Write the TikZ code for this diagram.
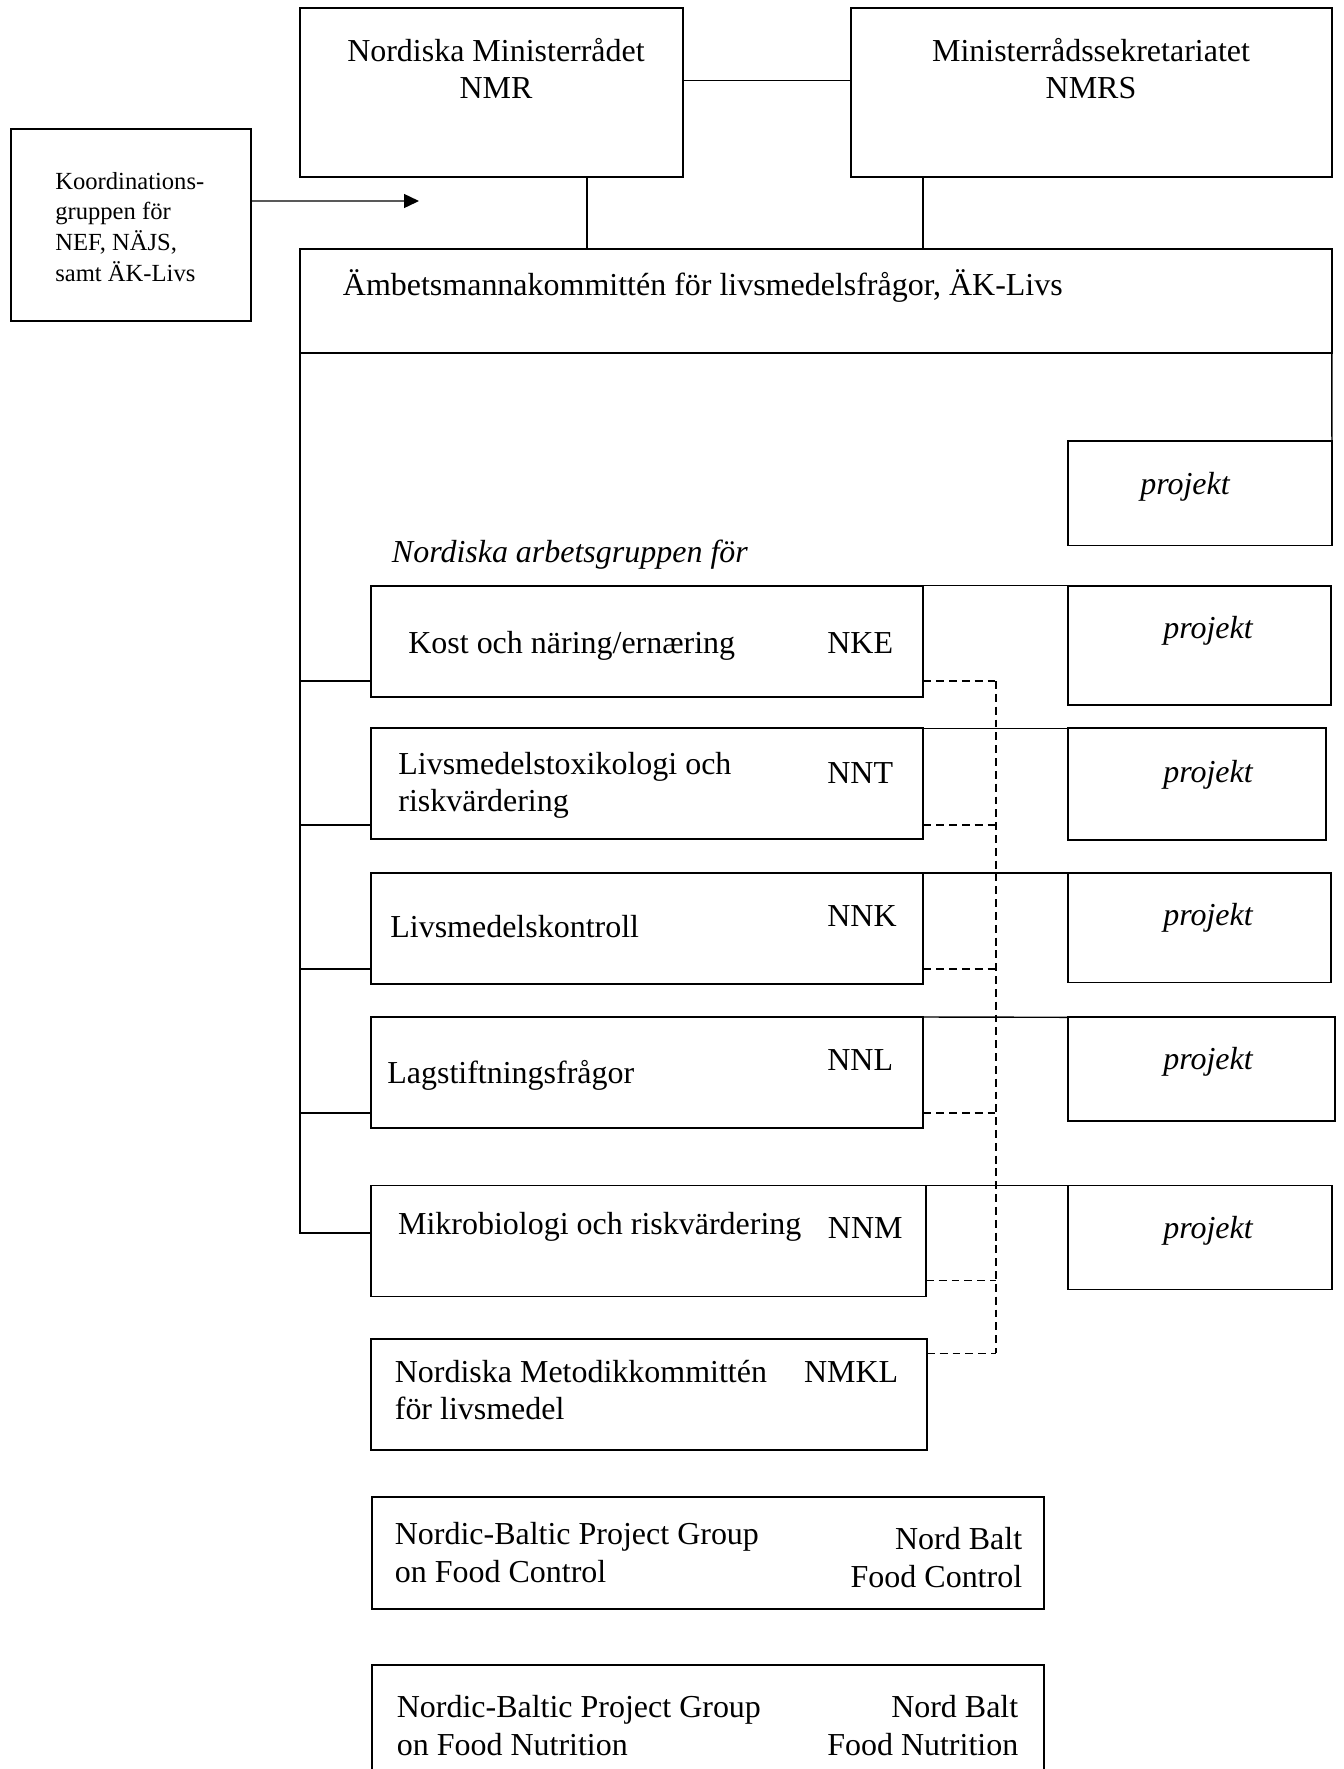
\documentclass[tikz,border=0pt]{standalone}
\usepackage{fontspec}
\setmainfont{Liberation Serif}
\usetikzlibrary{arrows.meta}
\tikzset{orgbox/.style = {draw, line width=1.1pt, inner sep=0pt, outer sep=0pt,
                          anchor=north west}}
\tikzset{link/.style = {line width=0.8pt}}
\tikzset{dashlink/.style = {line width=0.8pt, dash pattern=on 4.5pt off 2.8pt}}
\tikzset{txt/.style = {inner sep=0pt, font=\fontsize{18.2pt}{21.3pt}\selectfont}}
\tikzset{smalltxt/.style = {inner sep=0pt, font=\fontsize{14pt}{17.4pt}\selectfont}}
\tikzset{projtxt/.style = {inner sep=0pt, anchor=base,
                           font=\fontsize{18.2pt}{21.3pt}\selectfont\itshape}}

\begin{document}
\begin{tikzpicture}[x=0.02cm, y=-0.02cm]
      \clip (0, 0) rectangle (1343, 1769);

      % top level
      \node [orgbox, minimum width=7.67cm, minimum height=3.37cm] (nmr) at (300, 8.4) {};
      \node [orgbox, minimum width=9.62cm, minimum height=3.37cm] (nmrs) at (851, 8.4) {};
      \node [orgbox, minimum width=4.80cm, minimum height=3.84cm] (koord) at (11, 129) {};
      \node [orgbox, minimum width=20.64cm, minimum height=2.08cm] (aek) at (300, 249) {};
      \node [orgbox, minimum width=5.28cm, minimum height=2.09cm] (proj0) at (1068, 441) {};

      % multi-line texts sit on the baseline of their last line
      \node [txt, align=center, anchor=base] (nmrtext) at (496, 98.7) {Nordiska Ministerrådet\\NMR};
      \node [txt, align=center, anchor=base] (nmrstext) at (1091, 98.7) {Ministerrådssekretariatet\\NMRS};
      \node [smalltxt, align=left, anchor=base west] (koordtext) at (55, 281)
            {Koordinations-\\gruppen för\\NEF, NÄJS,\\samt ÄK-Livs};
      \node [txt, anchor=base west] (aektext) at (342.6, 295.4)
            {Ämbetsmannakommittén för livsmedelsfrågor, ÄK-Livs};
      \node [projtxt] (proj0text) at (1185, 494.5) {projekt};
      \node [txt, anchor=base west, font=\fontsize{18.2pt}{21.3pt}\selectfont\itshape] (heading)
            at (391.6, 562.6) {Nordiska arbetsgruppen för};

      % working groups and their projects
      \foreach \g/\y/\w in {nke/585.6/11.05, nnt/728.4/11.05, nnk/873/11.05,
                            nnl/1017/11.05, nnm/1185.5/11.10, nmkl/1338.7/11.12}
        \node [orgbox, minimum width=\w cm, minimum height=2.22cm] (\g) at (371, \y) {};
      \foreach \p/\y/\w/\h in {proj1/585.6/5.26/2.38, proj2/728.4/5.16/2.23,
                               proj3/873/5.26/2.19, proj4/1017.3/5.34/2.07,
                               proj5/1185.5/5.28/2.08}
        \node [orgbox, minimum width=\w cm, minimum height=\h cm] (\p) at (1068, \y) {};
      \node [orgbox, minimum width=13.44cm, minimum height=2.23cm] (nbfc) at (372, 1497.4) {};
      \node [orgbox, minimum width=13.44cm, minimum height=2.4cm] (nbfn) at (372, 1665.2) {};

      \node [txt, anchor=base west] (nketext) at (408, 653.5) {Kost och näring/ernæring};
      \node [txt, anchor=base west] (nkeabbr) at (827, 653.5) {NKE};
      \node [txt, anchor=base west, align=left] (nnttext) at (398, 811.6)
            {Livsmedelstoxikologi och\\riskvärdering};
      \node [txt, anchor=base west] (nntabbr) at (827, 783.6) {NNT};
      \node [txt, anchor=base west] (nnktext) at (390, 937) {Livsmedelskontroll};
      \node [txt, anchor=base west] (nnkabbr) at (827, 926.4) {NNK};
      \node [txt, anchor=base west] (nnltext) at (387, 1083.6) {Lagstiftningsfrågor};
      \node [txt, anchor=base west] (nnlabbr) at (827, 1070.8) {NNL};
      \node [txt, anchor=base west] (nnmtext) at (397.8, 1234) {Mikrobiologi och riskvärdering};
      \node [txt, anchor=base west] (nnmabbr) at (827.6, 1238.8) {NNM};
      \node [txt, anchor=base west, align=left] (nmkltext) at (394.5, 1419.6)
            {Nordiska Metodikkommittén\\för livsmedel};
      \node [txt, anchor=base west] (nmklabbr) at (803.7, 1382) {NMKL};
      \node [txt, anchor=base west, align=left] (nbfctext) at (394.5, 1582.3)
            {Nordic-Baltic Project Group\\on Food Control};
      \node [txt, anchor=base east, align=right] (nbfcabbr) at (1022.5, 1587.4)
            {Nord Balt\\Food Control};
      \node [txt, anchor=base west, align=left] (nbfntext) at (396.5, 1755)
            {Nordic-Baltic Project Group\\on Food Nutrition};
      \node [txt, anchor=base east, align=right] (nbfnabbr) at (1018.6, 1755)
            {Nord Balt\\Food Nutrition};

      \foreach \p/\y in {proj1/638.5, proj2/782, proj3/925.5, proj4/1069, proj5/1238.8}
        \node [projtxt] (\p text) at (1208, \y) {projekt};

      % connectors
      \draw [link] ([yshift=0.24cm]nmr.east) -- ([yshift=0.24cm]nmrs.west);
      \path ([xshift=1.91cm]nmr.south) coordinate (nmrfoot);
      \path ([xshift=-3.37cm]nmrs.south) coordinate (nmrsfoot);
      \draw [link] (nmrfoot) -- (nmrfoot |- aek.north);
      \draw [link] (nmrsfoot) -- (nmrsfoot |- aek.north);
      \coordinate (tip) at (419, 201);
      \draw [link, -{Triangle[length=0.3cm, width=0.28cm]}] ([yshift=0.48cm]koord.east) -- (tip);
      \draw [link] (aek.south east) -- (proj0.north east);

      \foreach \g/\s in {nke/-0.8, nnt/-0.82, nnk/-0.81, nnl/-0.81, nnm/0.16}
        \draw [link] (aek.south west) |- ([yshift=\s cm]\g.west);
      \foreach \g/\p in {nke/proj1, nnt/proj2, nnk/proj3, nnl/proj4, nnm/proj5}
        \draw [link] (\g.north east) -- (\p.north west);

      \coordinate (dx) at (996, 0);
      \foreach \g/\s in {nke/-0.8, nnt/-0.82, nnk/-0.81, nnl/-0.81, nnm/-0.79, nmkl/0.82} {
        \path ([yshift=\s cm]\g.east) coordinate (d\g);
        \draw [dashlink] (d\g) -- (d\g -| dx);
      }
      \draw [dashlink] (dnke -| dx) -- (dnmkl -| dx);
    \end{tikzpicture}
\end{document}
